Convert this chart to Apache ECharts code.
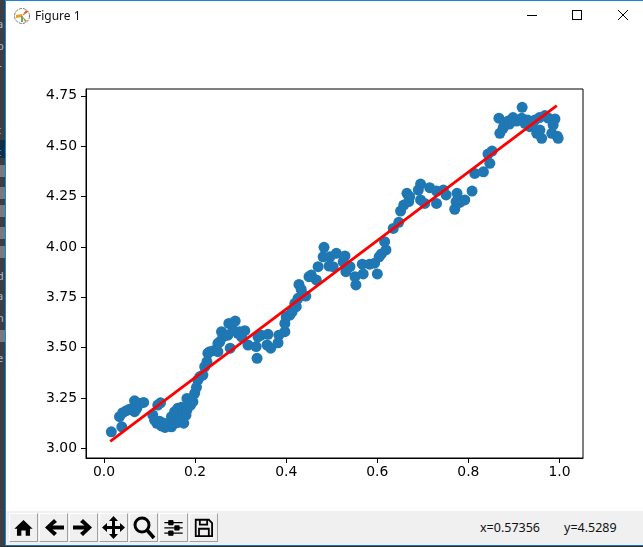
<!DOCTYPE html>
<html>
<head>
<meta charset="utf-8">
<title>Figure 1</title>
<script src="https://cdn.jsdelivr.net/npm/echarts@6/dist/echarts.min.js"></script>
<style>
  html, body { margin: 0; padding: 0; background: #fff; overflow: hidden; }
  #page { position: relative; width: 643px; height: 547px; overflow: hidden; font-family: "Noto Sans", sans-serif; }
  #chart { position: absolute; left: 0; top: 0; width: 643px; height: 547px; }
  .abs { position: absolute; }
  #side { left: 0; top: 0; width: 5px; height: 547px; background: #3c3f41; overflow: hidden; }
  #side span { position: absolute; left: -3px; font-size: 11px; line-height: 12px; color: #a9b7c6; }
  #side i { position: absolute; left: 0; width: 5px; height: 12px; background: #777a7c; }
  #edge { left: 5px; top: 0; width: 1px; height: 547px; background: #1c86d8; }
  #topline { left: 5px; top: 0; width: 638px; height: 1px; background: #1c86d8; }
  #bar { left: 6px; top: 511px; width: 637px; height: 34px; background: #f0f0f0; }
  #botline { left: 5px; top: 545px; width: 638px; height: 1px; background: #1c6fb0; }
  #bot { left: 0; top: 546px; width: 643px; height: 1px; background: #2b2b2b; }
  .btn { position: absolute; top: 513px; width: 29px; height: 29px; box-sizing: border-box; background: #f0f0f0;
         border: 1px solid; border-color: #fff #a0a0a0 #a0a0a0 #fff; }
  .btn svg { display: block; width: 27px; height: 27px; }
</style>
</head>
<body>
<div id="page">
  <div id="chart"></div>

  <div class="abs" id="side">
    <span style="top:18px">a</span><span style="top:40px">p</span><span style="top:62px">r</span>
    <span style="top:102px">i</span><span style="top:124px">t</span>
    <div style="position:absolute;left:0;top:140px;width:5px;height:18px;background:#0d2f47"></div>
    <span style="top:146px">t</span>
    <i style="top:165px"></i><i style="top:187px"></i><i style="top:205px"></i><i style="top:227px"></i><i style="top:246px"></i>
    <span style="top:270px">d</span><span style="top:290px">a</span><span style="top:312px">n</span>
    <i style="top:330px"></i><span style="top:352px">e</span><span style="top:376px;color:#ddd">:</span>
  </div>
  <div class="abs" id="edge"></div>
  <div class="abs" id="topline"></div>

  <!-- title bar -->
  <svg class="abs" style="left:13px;top:7px" width="18" height="18" viewBox="0 0 18 18">
    <circle cx="9" cy="9" r="7.5" fill="#fff" stroke="#777" stroke-width="1" stroke-dasharray="3 1"/>
    <path d="M3 8 L9 7 L9 10 L3 11Z" fill="#e8a020"/>
    <path d="M9 9 L13 3 L15 5Z" fill="#e05a20"/>
    <path d="M9 9 L14 14 L12 15Z" fill="#c08060"/>
    <path d="M8 9 L10 9 L10 15 L8 15Z" fill="#60b060"/>
  </svg>
  <div class="abs" style="left:35px;top:8px;font-size:12px;line-height:16px;color:#111">Figure 1</div>
  <svg class="abs" style="left:520px;top:5px" width="115" height="20" viewBox="0 0 115 20" fill="none" stroke="#000" stroke-width="1">
    <path d="M7 10.5 H17"/>
    <rect x="52.5" y="5.5" width="9" height="9"/>
    <path d="M98 5 L108 15 M108 5 L98 15"/>
  </svg>

  <!-- toolbar -->
  <div class="abs" id="bar"></div>
  <div class="btn" style="left:9px"><svg viewBox="-1 -2 29 31"><path d="M13.5 5 L24 15 L21 15 L21 23 L16 23 L16 17 L11 17 L11 23 L6 23 L6 15 L3 15Z" fill="#000"/></svg></div>
  <div class="btn" style="left:39px"><svg viewBox="0 0 27 27"><path d="M14 5 L5 13.5 L14 22 L17 19 L12.5 15.5 L24 15.5 L24 11.5 L12.5 11.5 L17 8Z" fill="#000"/></svg></div>
  <div class="btn" style="left:69px"><svg viewBox="0 0 27 27"><path d="M13 5 L22 13.5 L13 22 L10 19 L14.500 15.500 L3 15.5 L3 11.500 L14.500 11.500 L10 8Z" fill="#000"/></svg></div>
  <div class="btn" style="left:99px"><svg viewBox="0 0 27 27"><path d="M13.5 2 L18 7 L15 7 L15 12 L20 12 L20 9 L25 13.500 L20 18 L20 15 L15 15 L15 20 L18 20 L13.500 25 L9 20 L12 20 L12 15 L7 15 L7 18 L2 13.500 L7 9 L7 12 L12 12 L12 7 L9 7Z" fill="#000"/></svg></div>
  <div class="btn" style="left:129px"><svg viewBox="0 0 27 27"><circle cx="12" cy="11" r="7" fill="none" stroke="#000" stroke-width="3"/><path d="M17 16 L24 24" stroke="#000" stroke-width="3.500"/></svg></div>
  <div class="btn" style="left:159px"><svg viewBox="-2 -2 31 31" stroke="#000"><path d="M3 8 H24 M3 14 H24 M3 20 H24" stroke-width="1.500"/><path d="M8 5.500 H13 V10.500 H8Z M15 11.500 H20 V16.500 H15Z M8 17.500 H13 V22.500 H8Z" fill="#000"/></svg></div>
  <div class="btn" style="left:189px"><svg viewBox="-3 -3 33 33" fill="none" stroke="#000" stroke-width="2.200"><path d="M4 4 H20 L24 8 V24 H4Z"/><path d="M9 4 V10 H18 V4"/><path d="M8 24 V15 H20 V24"/></svg></div>
  <div class="abs" style="left:480px;top:519px;font-size:12.500px;line-height:18px;color:#111">x=0.57356</div>
  <div class="abs" style="left:564px;top:519px;font-size:12.500px;line-height:18px;color:#111">y=4.5289</div>
  <div class="abs" id="botline"></div>
  <div class="abs" id="bot"></div>
</div>

<script>
var xValues = [
  0.016, 0.034, 0.039, 0.041, 0.049, 0.056, 0.067, 0.067, 0.072, 0.078, 0.087,
  0.107, 0.111, 0.116, 0.118, 0.124, 0.126, 0.134, 0.140, 0.148, 0.148, 0.153,
  0.155, 0.160, 0.162, 0.166, 0.170, 0.177, 0.182, 0.182, 0.195, 0.199, 0.203,
  0.206, 0.210, 0.217, 0.221, 0.226, 0.228, 0.232, 0.240, 0.250, 0.250, 0.254,
  0.258, 0.261, 0.272, 0.274, 0.277, 0.283, 0.288, 0.294, 0.298, 0.302, 0.309,
  0.316, 0.334, 0.336, 0.338, 0.345, 0.358, 0.360, 0.366, 0.382, 0.384, 0.397,
  0.397, 0.400, 0.408, 0.413, 0.419, 0.422, 0.426, 0.428, 0.433, 0.443, 0.450,
  0.455, 0.466, 0.470, 0.481, 0.483, 0.494, 0.496, 0.503, 0.510, 0.525, 0.529,
  0.531, 0.540, 0.551, 0.553, 0.567, 0.569, 0.583, 0.594, 0.600, 0.604, 0.609,
  0.619, 0.616, 0.635, 0.647, 0.651, 0.658, 0.665, 0.669, 0.671, 0.690, 0.695,
  0.695, 0.704, 0.715, 0.730, 0.730, 0.745, 0.751, 0.770, 0.773, 0.775, 0.781,
  0.792, 0.808, 0.814, 0.833, 0.847, 0.843, 0.852, 0.867, 0.869, 0.876, 0.887,
  0.898, 0.906, 0.917, 0.918, 0.924, 0.935, 0.946, 0.950, 0.956, 0.957, 0.961,
  0.968, 0.983, 0.986, 0.990, 0.995, 0.997,
  0.122, 0.132, 0.170, 0.180, 0.190, 0.175, 0.878, 0.890, 0.930, 0.940, 0.975
];
var yValues = [
  3.082, 3.157, 3.107, 3.177, 3.187, 3.194, 3.182, 3.236, 3.199, 3.223, 3.228,
  3.165, 3.140, 3.124, 3.215, 3.226, 3.111, 3.104, 3.116, 3.107, 3.157, 3.124,
  3.182, 3.127, 3.199, 3.157, 3.204, 3.182, 3.190, 3.248, 3.232, 3.273, 3.303,
  3.339, 3.355, 3.364, 3.405, 3.430, 3.472, 3.480, 3.485, 3.480, 3.521, 3.529,
  3.579, 3.554, 3.562, 3.620, 3.497, 3.587, 3.632, 3.571, 3.579, 3.554, 3.584,
  3.513, 3.505, 3.447, 3.554, 3.562, 3.513, 3.566, 3.497, 3.524, 3.562, 3.579,
  3.620, 3.653, 3.662, 3.678, 3.720, 3.703, 3.745, 3.814, 3.789, 3.756, 3.852,
  3.860, 3.836, 3.902, 3.951, 3.998, 3.905, 3.951, 3.902, 3.968, 3.926, 3.955,
  3.877, 3.902, 3.852, 3.811, 3.914, 3.866, 3.914, 3.919, 3.866, 3.951, 3.965,
  3.985, 4.026, 4.092, 4.122, 4.178, 4.208, 4.266, 4.225, 4.249, 4.282, 4.312,
  4.233, 4.216, 4.294, 4.277, 4.216, 4.282, 4.258, 4.187, 4.225, 4.266, 4.221,
  4.233, 4.277, 4.365, 4.373, 4.415, 4.461, 4.476, 4.639, 4.564, 4.589, 4.625,
  4.642, 4.625, 4.639, 4.693, 4.614, 4.597, 4.630, 4.564, 4.642, 4.580, 4.539,
  4.652, 4.564, 4.605, 4.635, 4.550, 4.539,
  3.135, 3.125, 3.140, 3.165, 3.215, 3.125, 4.600, 4.610, 4.630, 4.610, 4.640
];
var fitX = [0.0136, 0.994];
var fitY = [3.035, 4.701];
var xTicks = [0, 0.2, 0.4, 0.6, 0.8, 1.0];
var yTicks = [3, 3.25, 3.5, 3.75, 4, 4.25, 4.5, 4.75];

var myChart = echarts.init(document.getElementById('chart'), null, {renderer: 'canvas'});

var scatterData = xValues.map(function (x, i) { return [x, yValues[i]]; });
var lineData = fitX.map(function (x, i) { return [x, fitY[i]]; });

var tickFont = {
    color: '#000',
    fontFamily: 'DejaVu Sans',
    fontSize: 13.9
};

var option = {
    animation: false,
    backgroundColor: 'transparent',
    grid: {
        left: 86,
        top: 89,
        width: 497,
        height: 369,
        show: true,
        borderColor: '#000',
        borderWidth: 1,
        backgroundColor: '#fff'
    },
    xAxis: {
        type: 'value',
        min: -0.0396,
        max: 1.0516,
        splitLine: {show: false},
        axisLine: {show: true, onZero: false, lineStyle: {color: '#000', width: 1}},
        axisTick: {show: true, length: 5, customValues: xTicks, lineStyle: {color: '#000', width: 1}},
        axisLabel: Object.assign({
            margin: 7,
            customValues: xTicks,
            formatter: function (v) { return v.toFixed(1); }
        }, tickFont)
    },
    yAxis: {
        type: 'value',
        min: 2.952,
        max: 4.784,
        splitLine: {show: false},
        axisLine: {show: true, onZero: false, lineStyle: {color: '#000', width: 1}},
        axisTick: {show: true, length: 5, customValues: yTicks, lineStyle: {color: '#000', width: 1}},
        axisLabel: Object.assign({
            margin: 9,
            padding: [2, 0, 0, 0],
            customValues: yTicks,
            formatter: function (v) { return v.toFixed(2); }
        }, tickFont)
    },
    series: [{
        type: 'scatter',
        data: scatterData,
        symbolSize: 11,
        itemStyle: {color: '#1f77b4', opacity: 1},
        z: 2
    }, {
        type: 'line',
        data: lineData,
        showSymbol: false,
        symbol: 'none',
        lineStyle: {color: '#ff0000', width: 2.8},
        z: 3
    }]
};
myChart.setOption(option);
</script>
</body>
</html>
